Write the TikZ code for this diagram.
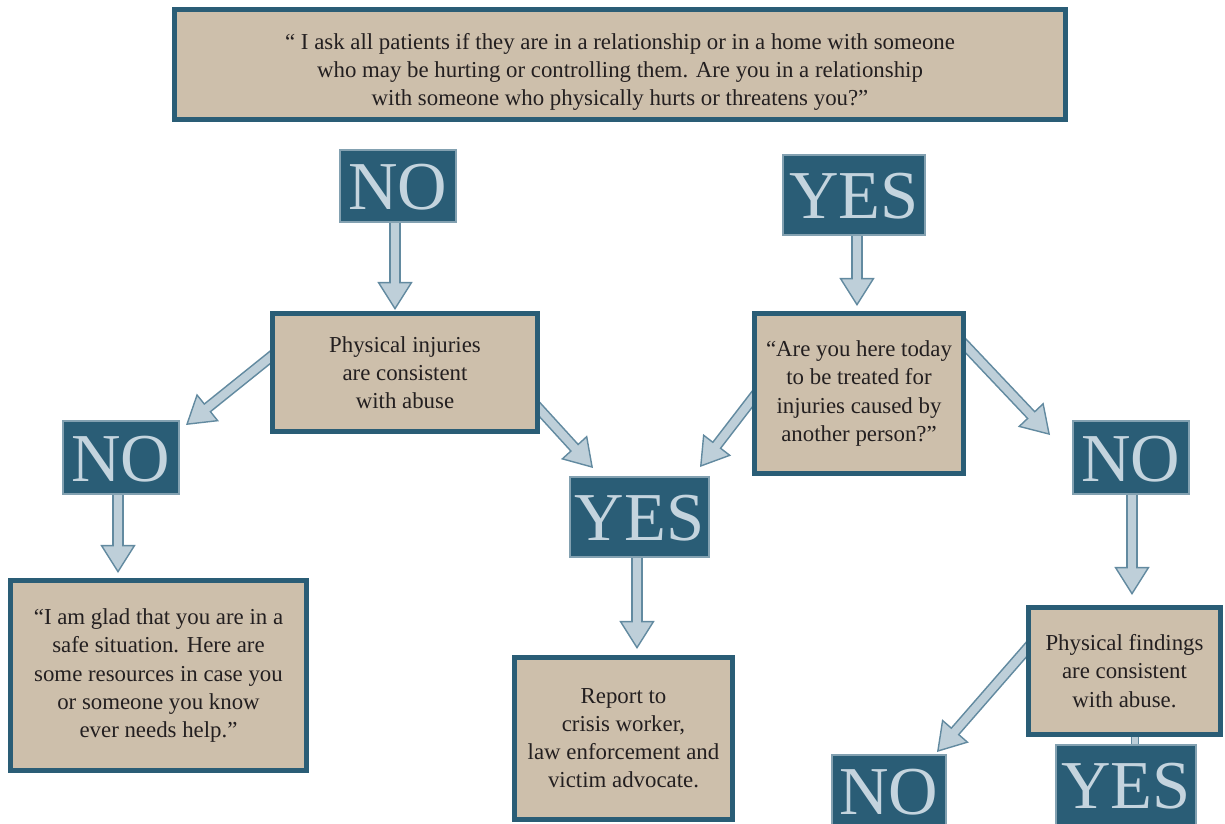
\documentclass[tikz,border=0pt]{standalone}
\usepackage{fontspec}
\setmainfont{Liberation Serif}
\usetikzlibrary{arrows.meta,positioning,calc,backgrounds}
\definecolor{boxteal}{RGB}{42,93,118}
\definecolor{boxsand}{RGB}{205,191,171}
\definecolor{arrowfill}{RGB}{190,207,217}
\definecolor{arrowline}{RGB}{98,138,160}
\definecolor{answertext}{RGB}{196,212,222}
\definecolor{bodytext}{RGB}{35,31,32}
\newdimen\px \px=0.02cm

\begin{document}
\begin{tikzpicture}[
    x=0.02cm, y=-0.02cm,
    question/.style={rectangle, draw=boxteal, line width=2.8pt, fill=boxsand, text=bodytext, align=center, inner sep=0pt, font=\fontsize{13}{16}\selectfont},
    answer/.style={rectangle, fill=boxteal, draw=arrowfill!60!boxteal, line width=0.6pt, text=answertext, inner sep=0pt, text height=27pt, text depth=0pt, font=\fontsize{39}{40}\selectfont},
    shaftout/.style={draw=arrowline, line width=6.4pt},
    shaftin/.style={draw=arrowfill, line width=4.6pt},
    tiphead/.style={draw=arrowline, line width=0.8pt, -{Triangle[width=20pt, length=16pt, fill=arrowfill]}}
]
\useasboundingbox (0,0) rectangle (1225,823);

% Opening question
\node[question, minimum width=891\px, minimum height=110\px] (opening) at (620,64.5)
    {\strut\\[-10pt]`` I ask all patients if they are in a relationship or in a home with someone\\
     who may be hurting or controlling them. Are you in a relationship\\
     with someone who physically hurts or threatens you?''};

% First answers
\node[answer, minimum width=116\px, minimum height=72\px] (no_top) at (398,186) {NO};
\node[answer, minimum width=142\px, minimum height=80\px] (yes_top) at (854,195) {YES};

% Second questions
\node[question, minimum width=265\px, minimum height=118\px] (injuries) at (405,372.5)
    {Physical injuries\\are consistent\\with abuse};
\node[question, minimum width=209\px, minimum height=160\px] (here_today) at (859,393.5)
    {``Are you here today\\to be treated for\\injuries caused by\\another person?''};

% Second answers
\node[answer, minimum width=116\px, minimum height=73\px] (no_left) at (121,457.5) {NO};
\node[answer, minimum width=139\px, minimum height=80\px] (yes_mid) at (639.5,517) {YES};
\node[answer, minimum width=116\px, minimum height=73\px] (no_right) at (1131,457.5) {NO};

% Outcomes
\node[question, minimum width=296\px, minimum height=190\px] (glad) at (158.5,675.5)
    {``I am glad that you are in a\\safe situation. Here are\\some resources in case you\\or someone you know\\ever needs help.''};
\node[question, minimum width=218\px, minimum height=162\px] (report) at (623.5,738.5)
    {Report to\\crisis worker,\\law enforcement and\\victim advocate.};
\node[question, minimum width=192\px, minimum height=127\px] (findings) at (1124.5,671)
    {Physical findings\\are consistent\\with abuse.};

% Last answers (cut off by the page)
\node[answer, minimum width=114\px, minimum height=72\px] (no_low) at (889,791) {NO};
\node[answer, minimum width=140\px, minimum height=80\px] (yes_low) at (1126,785) {YES};

% Arrow tips and start points
\coordinate (tip_no_top) at (395,310);
\coordinate (tip_yes_top) at (857,306);
\coordinate (tip_no_left) at (118,573);
\coordinate (tip_yes_mid) at (637,649);
\coordinate (tip_no_right) at (1132,595);
\coordinate (injuries_l) at (293,339);
\coordinate (tip_injuries_l) at (186,425);
\coordinate (injuries_r) at (520,388);
\coordinate (tip_injuries_r) at (593,468);
\coordinate (here_l) at (770,376);
\coordinate (tip_here_l) at (700,467);
\coordinate (here_r) at (946,325);
\coordinate (tip_here_r) at (1050,435);
\coordinate (findings_l) at (1046,627);
\coordinate (tip_findings_l) at (937,752);
\coordinate (stub) at (1135,740);

\begin{scope}[on background layer]
    % straight down arrows
    \foreach \s/\t in {no_top/tip_no_top, yes_top/tip_yes_top, no_left/tip_no_left, yes_mid/tip_yes_mid, no_right/tip_no_right} {
        \draw[shaftout, shorten >=15.5pt] (\t |- \s) -- (\t);
        \draw[tiphead] ($(\t)!16pt!(\t |- \s)$) -- (\t);
        \draw[shaftin, shorten >=14pt] (\t |- \s) -- (\t);
    }
    % slanted arrows
    \foreach \s/\t in {injuries_l/tip_injuries_l, injuries_r/tip_injuries_r, here_l/tip_here_l, here_r/tip_here_r, findings_l/tip_findings_l} {
        \draw[shaftout, shorten >=15.5pt] (\s) -- (\t);
        \draw[tiphead] ($(\t)!16pt!(\s)$) -- (\t);
        \draw[shaftin, shorten >=14pt] (\s) -- (\t);
    }
    % stub to the last YES
    \draw[shaftout, line width=5pt] (stub |- findings) -- (stub |- yes_low);
    \draw[shaftin, line width=3.4pt] (stub |- findings) -- (stub |- yes_low);
\end{scope}

\end{tikzpicture}
\end{document}
